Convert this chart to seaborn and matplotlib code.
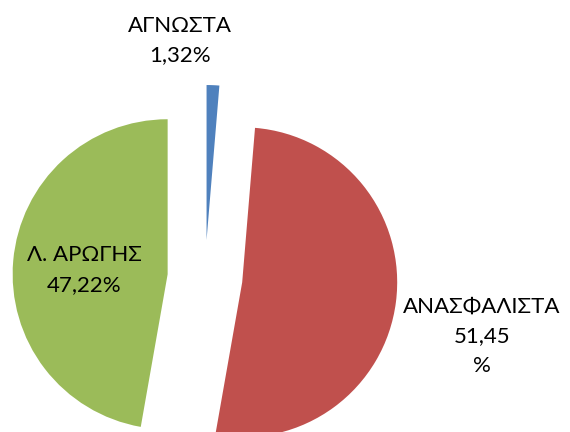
import matplotlib
matplotlib.use("Agg")
import matplotlib.pyplot as plt
import seaborn as sns

categories = ["ΑΓΝΩΣΤΑ", "ΑΝΑΣΦΑΛΙΣΤΑ", "Λ. ΑΡΩΓΗΣ"]
values = [1.32, 51.45, 47.22]
label_texts = ["ΑΓΝΩΣΤΑ\n1,32%", "ΑΝΑΣΦΑΛΙΣΤΑ\n51,45\n%", "Λ. ΑΡΩΓΗΣ\n47,22%"]
colors = ["#4F81BD", "#C0504D", "#9BBB59"]

sns.set_theme(style="white")
plt.rcParams['font.family'] = ['Lato', 'DejaVu Sans']

fig = plt.figure(figsize=(5.7, 4.32), dpi=100)
ax = fig.add_axes([0, 0, 1, 1])

R = 155
cx, cy = 205, -277.5
ax.pie(values, colors=sns.color_palette(colors), startangle=90, counterclock=False,
       radius=R, center=(cx, cy), explode=[37.5] * 3,
       wedgeprops=dict(linewidth=0))
ax.set_xlim(0, 570)
ax.set_ylim(-432, 0)
ax.set_aspect('equal')
ax.axis('off')

label_pos = [(180, -40.5), (482, -336), (84, -270)]
for txt, (x, y) in zip(label_texts, label_pos):
    ax.text(x, y, txt, ha='center', va='center', fontsize=16,
            linespacing=1.6, color='black')

fig.savefig("out.png", dpi=100)
